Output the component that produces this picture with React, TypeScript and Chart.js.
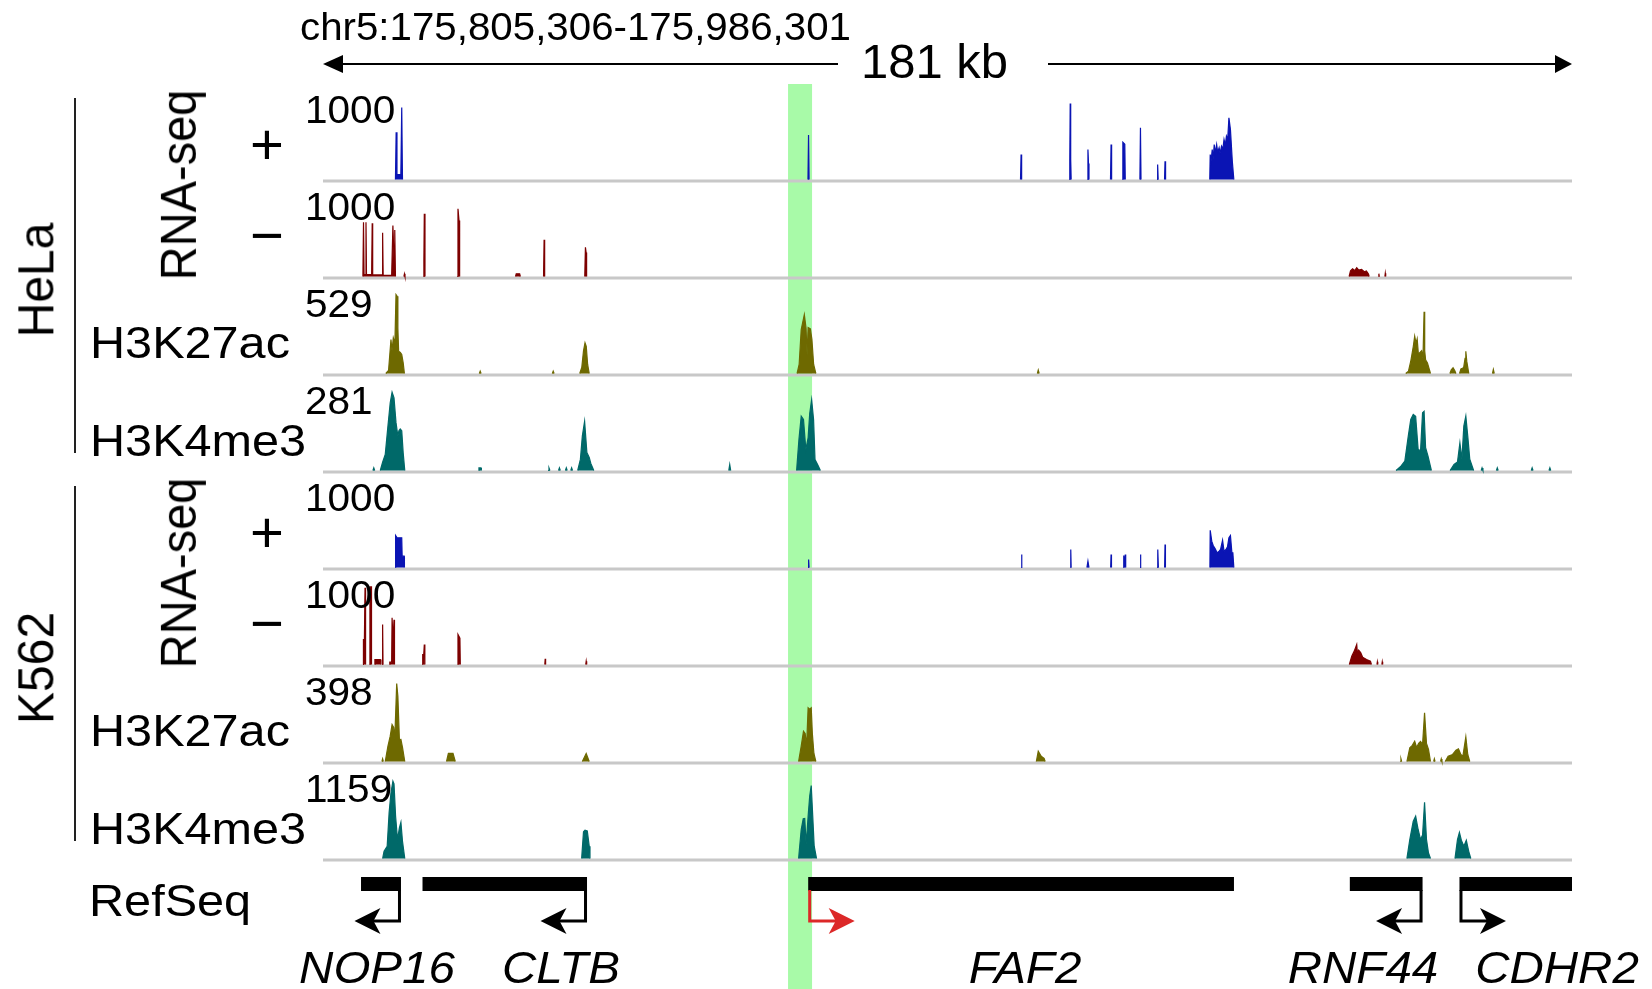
import React, { useEffect, useRef } from 'react';
import { Chart, registerables } from 'chart.js';
Chart.register(...registerables);

// ---------------- DATA ----------------
const regionLabel = 'chr5:175,805,306-175,986,301';
const spanLabel = '181 kb';
const regionStartKb = 0;
const regionEndKb = 180.996;
const highlightKb = [67.39, 70.87];

const cellLines = ['HeLa', 'K562'];
const trackKinds = ['+', '−', 'H3K27ac', 'H3K4me3'];
const trackMax = [1000, 1000, 529, 281, 1000, 1000, 398, 1159];

type Peak = number[][];

const helaRnaPlus: Peak[] = [
  [[10.5, 0], [10.6, 590], [10.72, 60], [11.28, 60], [11.41, 900], [11.52, 0]],
  [[70.28, 0], [70.36, 555], [70.44, 0]],
  [[101.08, 0], [101.16, 312], [101.24, 0]],
  [[108.15, 0], [108.22, 250], [108.28, 950], [108.35, 250], [108.42, 0]],
  [[110.77, 0], [110.85, 375], [110.93, 200], [111.0, 0]],
  [[114.12, 0], [114.2, 437], [114.28, 0]],
  [[115.84, 0], [115.91, 466], [116.19, 440], [116.26, 0]],
  [[118.38, 0], [118.46, 646], [118.54, 0]],
  [[120.88, 0], [120.95, 187], [121.03, 0]],
  [[121.95, 0], [122.02, 229], [122.1, 0]],
  [[128.5, 0], [128.57, 312], [128.7, 230], [128.86, 375], [129.0, 260], [129.15, 437], [129.3, 330], [129.5, 437], [129.65, 340], [129.86, 396], [130.0, 330], [130.21, 416], [130.4, 380], [130.57, 500], [130.75, 430], [130.92, 541], [131.1, 500], [131.28, 771], [131.5, 625], [131.77, 229], [131.99, 0]],
];

const helaRnaMinus: Peak[] = [
  [[5.78, 0], [5.87, 679], [5.95, 25], [6.15, 25], [6.23, 679], [6.3, 25], [7.05, 25], [7.13, 666], [7.2, 20], [8.55, 20], [8.64, 546], [8.72, 15], [9.95, 15], [10.13, 637], [10.3, 200], [10.4, 580], [10.5, 0]],
  [[11.72, 0], [11.8, 33], [11.88, 0]],
  [[14.55, 0], [14.62, 200], [14.68, 783], [14.78, 0]],
  [[19.45, 0], [19.56, 846], [19.71, 700], [19.8, 0]],
  [[27.9, 0], [28.0, 33], [28.5, 33], [28.6, 0]],
  [[31.96, 0], [32.04, 458], [32.12, 0]],
  [[37.93, 0], [38.03, 366], [38.13, 300], [38.2, 0]],
  [[148.7, 0], [148.9, 70], [149.2, 96], [149.5, 75], [149.8, 110], [150.1, 80], [150.5, 90], [150.9, 60], [151.2, 70], [151.5, 30], [151.6, 0]],
  [[152.95, 0], [153.01, 35], [153.07, 0]],
  [[153.88, 0], [153.94, 40], [154.0, 0]],
];

const helaH3K27ac: Peak[] = [
  [[9.1, 0], [9.5, 20], [9.85, 225], [10.0, 150], [10.19, 236], [10.42, 200], [10.58, 522], [10.74, 511], [10.85, 300], [10.96, 147], [11.2, 140], [11.41, 126], [11.62, 71], [11.8, 0]],
  [[22.65, 0], [22.78, 15], [22.91, 0]],
  [[33.23, 0], [33.36, 15], [33.49, 0]],
  [[37.2, 0], [37.5, 40], [37.75, 150], [37.97, 203], [38.15, 180], [38.35, 60], [38.58, 0]],
  [[68.7, 0], [69.0, 60], [69.3, 291], [69.75, 390], [70.0, 300], [70.15, 120], [70.3, 304], [70.63, 295], [70.85, 225], [71.1, 60], [71.42, 0]],
  [[103.52, 0], [103.65, 22], [103.78, 0]],
  [[156.9, 0], [157.3, 15], [157.63, 81], [158.0, 180], [158.2, 247], [158.4, 200], [158.56, 229], [158.75, 120], [158.91, 137], [159.2, 150], [159.4, 100], [159.56, 408], [159.65, 150], [159.78, 90], [160.05, 70], [160.3, 30], [160.49, 0]],
  [[163.3, 0], [163.5, 25], [163.76, 38], [164.0, 20], [164.18, 0]],
  [[164.7, 0], [164.9, 30], [165.11, 35], [165.3, 40], [165.5, 100], [165.61, 147], [165.75, 80], [166.04, 0]],
  [[169.47, 0], [169.6, 26], [169.73, 0]],
];

const helaH3K4me3: Peak[] = [
  [[7.23, 0], [7.36, 9], [7.49, 0]],
  [[8.3, 0], [8.64, 29], [9.02, 56], [9.41, 156], [9.74, 238], [10.01, 275], [10.29, 255], [10.58, 168], [10.85, 121], [11.0, 140], [11.19, 146], [11.41, 140], [11.62, 62], [11.85, 0]],
  [[22.55, 0], [22.6, 9], [22.9, 9], [22.95, 0]],
  [[32.62, 0], [32.75, 9], [32.88, 0]],
  [[34.13, 0], [34.26, 9], [34.39, 0]],
  [[35.13, 0], [35.26, 9], [35.39, 0]],
  [[35.9, 0], [36.03, 9], [36.16, 0]],
  [[36.91, 0], [37.3, 39], [37.58, 121], [37.91, 173], [38.24, 63], [38.58, 46], [38.81, 25], [39.24, 0]],
  [[58.8, 0], [58.94, 21], [59.08, 0]],
  [[68.63, 0], [68.97, 109], [69.3, 191], [69.63, 179], [69.97, 74], [70.3, 115], [70.53, 200], [70.81, 249], [71.09, 179], [71.3, 39], [71.69, 20], [72.08, 0]],
  [[155.5, 0], [156.21, 15], [156.77, 33], [157.27, 121], [157.63, 179], [157.99, 197], [158.34, 190], [158.7, 74], [159.05, 70], [159.34, 203], [159.56, 208], [159.78, 80], [160.13, 50], [160.62, 0]],
  [[163.33, 0], [163.9, 21], [164.4, 30], [164.75, 97], [165.04, 39], [165.32, 156], [165.61, 191], [165.89, 121], [166.18, 40], [166.74, 0]],
  [[167.83, 0], [167.96, 9], [168.09, 0]],
  [[170.04, 0], [170.17, 9], [170.3, 0]],
  [[175.09, 0], [175.22, 9], [175.35, 0]],
  [[177.66, 0], [177.79, 9], [177.92, 0]],
];

const k562RnaPlus: Peak[] = [
  [[10.48, 0], [10.52, 400], [10.74, 370], [10.96, 371], [11.41, 371], [11.47, 141], [11.76, 141], [11.8, 0]],
  [[70.3, 0], [70.32, 100], [70.42, 100], [70.44, 0]],
  [[101.17, 0], [101.23, 162], [101.29, 0]],
  [[108.3, 0], [108.36, 225], [108.42, 0]],
  [[110.7, 0], [110.85, 79], [111.0, 0]],
  [[114.14, 0], [114.2, 162], [114.26, 0]],
  [[115.98, 0], [116.04, 150], [116.1, 30], [116.2, 30], [116.26, 162], [116.32, 0]],
  [[118.4, 0], [118.46, 162], [118.52, 0]],
  [[120.88, 0], [120.93, 100], [120.98, 40], [121.0, 225], [121.06, 0]],
  [[121.96, 0], [122.02, 287], [122.08, 0]],
  [[128.52, 0], [128.57, 466], [128.79, 329], [129.0, 275], [129.29, 233], [129.57, 183], [129.86, 204], [130.07, 225], [130.36, 341], [130.57, 204], [130.85, 225], [131.07, 258], [131.28, 371], [131.5, 400], [131.71, 183], [131.85, 183], [131.99, 0]],
];

const k562RnaMinus: Peak[] = [
  [[5.8, 0], [5.86, 312], [6.0, 312], [6.09, 958], [6.15, 400], [6.19, 0]],
  [[6.74, 0], [6.8, 979], [6.88, 100], [6.92, 100], [6.97, 979], [7.03, 0]],
  [[7.5, 0], [7.52, 62], [8.3, 62], [8.4, 0]],
  [[8.58, 0], [8.64, 500], [8.7, 0]],
  [[9.65, 0], [9.68, 29], [9.95, 29], [10.01, 583], [10.15, 300], [10.29, 560], [10.36, 0]],
  [[14.4, 0], [14.45, 125], [14.6, 125], [14.68, 250], [14.76, 0]],
  [[19.5, 0], [19.56, 375], [19.84, 330], [19.9, 0]],
  [[32.14, 0], [32.2, 71], [32.26, 0]],
  [[38.07, 0], [38.14, 41], [38.21, 0]],
  [[148.73, 0], [149.08, 104], [149.44, 167], [149.8, 250], [149.9, 140], [150.08, 180], [150.37, 150], [150.66, 90], [151.22, 62], [151.79, 40], [151.93, 0]],
  [[152.73, 0], [152.79, 33], [152.85, 0]],
  [[153.44, 0], [153.5, 33], [153.56, 0]],
];

const k562H3K27ac: Peak[] = [
  [[8.54, 0], [8.64, 13], [8.74, 0]],
  [[9.02, 0], [9.41, 76], [9.74, 126], [10.01, 184], [10.24, 170], [10.4, 110], [10.68, 388], [10.85, 325], [11.07, 109], [11.29, 110], [11.52, 70], [11.85, 0]],
  [[17.9, 0], [18.17, 40], [18.84, 40], [19.17, 0]],
  [[37.58, 0], [38.14, 40], [38.58, 0]],
  [[68.92, 0], [69.3, 76], [69.63, 151], [69.87, 140], [70.08, 76], [70.3, 267], [70.53, 260], [70.75, 267], [70.91, 140], [71.14, 40], [71.42, 0]],
  [[103.37, 0], [103.65, 51], [104.08, 26], [104.5, 15], [104.65, 0]],
  [[156.11, 0], [156.21, 13], [156.31, 0]],
  [[157.07, 0], [157.49, 68], [157.85, 80], [158.2, 101], [158.48, 70], [158.77, 90], [159.05, 100], [159.34, 85], [159.63, 242], [159.91, 90], [160.2, 60], [160.49, 0]],
  [[160.95, 0], [161.05, 13], [161.15, 0]],
  [[161.95, 0], [162.05, 13], [162.15, 0]],
  [[162.62, 0], [163.05, 26], [163.69, 35], [164.18, 56], [164.54, 63], [164.89, 35], [165.18, 26], [165.61, 123], [165.89, 35], [166.18, 0]],
];

const k562H3K4me3: Peak[] = [
  [[8.64, 0], [8.85, 106], [9.3, 178], [9.58, 662], [9.85, 952], [10.13, 1120], [10.29, 1080], [10.52, 613], [10.8, 275], [11.07, 445], [11.29, 526], [11.52, 250], [11.85, 0]],
  [[37.48, 0], [37.75, 387], [37.97, 410], [38.3, 400], [38.58, 178], [38.69, 0]],
  [[68.92, 0], [69.3, 420], [69.59, 575], [69.81, 580], [70.02, 203], [70.3, 613], [70.53, 903], [70.75, 1058], [70.97, 613], [71.18, 178], [71.52, 0]],
  [[157.07, 0], [157.49, 275], [157.99, 541], [158.34, 613], [158.7, 420], [159.05, 275], [159.34, 340], [159.63, 816], [159.91, 275], [160.2, 80], [160.49, 0]],
  [[164.04, 0], [164.4, 275], [164.68, 377], [164.96, 265], [165.32, 178], [165.68, 265], [166.04, 100], [166.33, 0]],
];

const trackPeaks: Peak[][] = [helaRnaPlus, helaRnaMinus, helaH3K27ac, helaH3K4me3, k562RnaPlus, k562RnaMinus, k562H3K27ac, k562H3K4me3];

const geneNames = ['NOP16', 'CLTB', 'FAF2', 'RNF44', 'CDHR2'];
const geneStartKb = [5.51, 14.42, 70.31, 148.8, 164.69];
const geneEndKb = [11.3, 38.26, 132.01, 159.34, 180.996];
const geneStrand = ['-', '-', '+', '-', '+'];

// ---------------- LAYOUT / STYLE ----------------
const W = 1652;
const H = 989;
const PLOT_LEFT = 323;
const PLOT_RIGHT = 1572;
const TRACK_BASE = [181, 278, 375, 472, 569, 666, 763, 860];
const TRACK_H = 80;
const GENE_Y = 884;
const HIGHLIGHT_TOP = 84;
const SCALE_Y = 64;
const SCALE_GAP = [838, 1048];
const FONT = '"Liberation Sans", Arial, Helvetica, sans-serif';
const trackColors = ['#0a14b4', '#7d0000', '#6e6900', '#006969', '#0a14b4', '#7d0000', '#6e6900', '#006969'];
const geneLabelX = [377, 561, 1025, 1363, 1557];
const highlightGene = 'FAF2';

function flatten(peaks: Peak[]) {
  const out: { x: number; y: number | null }[] = [];
  peaks.forEach((p) => {
    p.forEach(([x, y]) => out.push({ x, y }));
    out.push({ x: p[p.length - 1][0], y: null });
  });
  return out;
}

function arrowHead(ctx: CanvasRenderingContext2D, tipX: number, y: number, dir: number, len: number, half: number, notch: number) {
  ctx.beginPath();
  ctx.moveTo(tipX, y);
  ctx.lineTo(tipX - dir * len, y - half);
  ctx.lineTo(tipX - dir * (len - notch), y);
  ctx.lineTo(tipX - dir * len, y + half);
  ctx.closePath();
  ctx.fill();
}

const decorPlugin = {
  id: 'decor',
  beforeDatasetsDraw(chart: any) {
    const ctx: CanvasRenderingContext2D = chart.ctx;
    const xs = chart.scales.x;
    const area = chart.chartArea;
    ctx.save();
    const x0 = xs.getPixelForValue(highlightKb[0]);
    const x1 = xs.getPixelForValue(highlightKb[1]);
    ctx.fillStyle = 'rgb(168,250,168)';
    ctx.fillRect(x0, HIGHLIGHT_TOP, x1 - x0, H - HIGHLIGHT_TOP);
    ctx.strokeStyle = 'rgb(200,200,200)';
    ctx.lineWidth = 3;
    trackMax.forEach((_, i) => {
      const y = chart.scales['y' + i].getPixelForValue(0) + 1.5;
      ctx.beginPath();
      ctx.moveTo(area.left, y);
      ctx.lineTo(area.right, y);
      ctx.stroke();
    });
    ctx.restore();
  },
  afterDatasetsDraw(chart: any) {
    const ctx: CanvasRenderingContext2D = chart.ctx;
    const xs = chart.scales.x;
    const yg = chart.scales.yg;
    ctx.save();
    // scale bar
    const xl = xs.getPixelForValue(regionStartKb);
    const xr = xs.getPixelForValue(regionEndKb);
    ctx.strokeStyle = '#000';
    ctx.fillStyle = '#000';
    ctx.lineWidth = 2;
    ctx.beginPath();
    ctx.moveTo(xl + 10, SCALE_Y);
    ctx.lineTo(SCALE_GAP[0], SCALE_Y);
    ctx.moveTo(SCALE_GAP[1], SCALE_Y);
    ctx.lineTo(xr - 10, SCALE_Y);
    ctx.stroke();
    arrowHead(ctx, xl, SCALE_Y, -1, 20, 9, 0);
    arrowHead(ctx, xr, SCALE_Y, 1, 17, 9, 0);
    // gene TSS arrows
    const gy = yg.getPixelForValue(0);
    const elbow = gy + 37;
    geneNames.forEach((g, i) => {
      const dir = geneStrand[i] === '+' ? 1 : -1;
      const tss = dir === 1 ? geneStartKb[i] : geneEndKb[i];
      const x = xs.getPixelForValue(tss) + dir * 1.5;
      const tip = x + dir * 45;
      const col = g === highlightGene ? 'rgb(220,40,40)' : '#000';
      ctx.strokeStyle = col;
      ctx.fillStyle = col;
      ctx.lineWidth = 3;
      ctx.beginPath();
      ctx.moveTo(x, gy + 6);
      ctx.lineTo(x, elbow);
      ctx.lineTo(tip - dir * 16, elbow);
      ctx.stroke();
      arrowHead(ctx, tip, elbow, dir, 26, 13, 7);
    });
    ctx.restore();
  },
};

function Txt(props: { x: number; baseline: number; size: number; sx?: number; italic?: boolean; center?: boolean; children: React.ReactNode }) {
  const { x, baseline, size, sx = 1, italic, center, children } = props;
  const top = baseline - 0.8465 * size;
  return (
    <div
      style={{
        position: 'absolute',
        left: x,
        top,
        fontSize: size,
        lineHeight: size + 'px',
        fontStyle: italic ? 'italic' : 'normal',
        whiteSpace: 'nowrap',
        color: '#000',
        transformOrigin: center ? 'center' : 'left',
        transform: center ? `translateX(-50%) scaleX(${sx})` : `scaleX(${sx})`,
      }}
    >
      {children}
    </div>
  );
}

function VTxt(props: { cx: number; cy: number; size: number; sy?: number; children: React.ReactNode }) {
  const { cx, cy, size, sy = 1, children } = props;
  return (
    <div
      style={{
        position: 'absolute',
        left: cx,
        top: cy,
        fontSize: size,
        lineHeight: size + 'px',
        whiteSpace: 'nowrap',
        color: '#000',
        transform: `translate(-50%, -50%) rotate(-90deg) scale(1, ${sy})`,
      }}
    >
      {children}
    </div>
  );
}

function CTxt(props: { cx: number; cy: number; size: number; children: React.ReactNode }) {
  const { cx, cy, size, children } = props;
  return (
    <div
      style={{
        position: 'absolute',
        left: cx,
        top: cy,
        fontSize: size,
        lineHeight: size + 'px',
        whiteSpace: 'nowrap',
        color: '#000',
        transform: 'translate(-50%, -50%)',
      }}
    >
      {children}
    </div>
  );
}

export default function App() {
  const ref = useRef<HTMLCanvasElement>(null);

  useEffect(() => {
    const scales: any = {
      x: { type: 'linear', display: false, min: regionStartKb, max: regionEndKb },
      yg: { type: 'linear', display: false, min: -(H - GENE_Y), max: GENE_Y },
    };
    const datasets: any[] = [];
    trackMax.forEach((M, i) => {
      const z = TRACK_BASE[i] - 1.5;
      scales['y' + i] = {
        type: 'linear',
        display: false,
        min: (-(H - z) * M) / TRACK_H,
        max: (z * M) / TRACK_H,
      };
      datasets.push({
        data: flatten(trackPeaks[i]),
        yAxisID: 'y' + i,
        xAxisID: 'x',
        borderColor: trackColors[i],
        backgroundColor: trackColors[i],
        borderWidth: 1.2,
        pointRadius: 0,
        fill: 'origin',
        tension: 0,
        spanGaps: false,
      });
    });
    const geneData: { x: number; y: number | null }[] = [];
    geneNames.forEach((_, i) => {
      geneData.push({ x: geneStartKb[i], y: 0 });
      geneData.push({ x: geneEndKb[i], y: 0 });
      geneData.push({ x: geneEndKb[i], y: null });
    });
    datasets.push({
      data: geneData,
      yAxisID: 'yg',
      xAxisID: 'x',
      borderColor: '#000',
      backgroundColor: '#000',
      borderWidth: 14,
      borderCapStyle: 'butt',
      pointRadius: 0,
      fill: false,
      spanGaps: false,
    });

    const chart = new Chart(ref.current as HTMLCanvasElement, {
      type: 'line',
      data: { datasets },
      options: {
        responsive: false,
        maintainAspectRatio: false,
        animation: false,
        devicePixelRatio: 1,
        layout: { padding: { left: PLOT_LEFT, right: W - PLOT_RIGHT, top: 0, bottom: 0 } },
        scales,
        plugins: { legend: { display: false }, tooltip: { enabled: false } },
        events: [],
      } as any,
      plugins: [decorPlugin as any],
    });
    return () => chart.destroy();
  }, []);

  const numLabels = trackMax.map((m, i) => (
    <Txt key={'n' + i} x={305} baseline={TRACK_BASE[i] - 58} size={39} sx={1.04}>
      {String(m)}
    </Txt>
  ));

  const leftLabels: React.ReactNode[] = [];
  cellLines.forEach((cl, c) => {
    const b = TRACK_BASE.slice(c * 4, c * 4 + 4);
    leftLabels.push(
      <VTxt key={'cl' + c} cx={35.5} cy={b[0] + 99} size={48} sy={1.06}>{cl}</VTxt>,
      <VTxt key={'rs' + c} cx={178} cy={b[0] + 4} size={47} sy={1.06}>RNA-seq</VTxt>,
      <CTxt key={'p' + c} cx={267} cy={b[0] - 37} size={58}>{trackKinds[0]}</CTxt>,
      <CTxt key={'m' + c} cx={267} cy={b[1] - 43} size={58}>{trackKinds[1]}</CTxt>,
      <Txt key={'k27' + c} x={90} baseline={b[2] - 17} size={45} sx={1.08}>{trackKinds[2]}</Txt>,
      <Txt key={'k4' + c} x={90} baseline={b[3] - 16} size={45} sx={1.08}>{trackKinds[3]}</Txt>,
      <div key={'ln' + c} style={{ position: 'absolute', left: 74, top: b[0] - 83, width: 2, height: b[3] - 19 - (b[0] - 83), background: '#222' }} />
    );
  });

  return (
    <div style={{ position: 'fixed', left: 0, top: 0, width: W, height: H, background: '#fff', overflow: 'hidden', fontFamily: FONT }}>
      <canvas ref={ref} width={W} height={H} style={{ position: 'absolute', left: 0, top: 0, width: W, height: H }} />
      <Txt x={300} baseline={40} size={38} sx={1.06}>{regionLabel}</Txt>
      <Txt x={861} baseline={78} size={49} sx={1.0}>{spanLabel}</Txt>
      {numLabels}
      {leftLabels}
      <Txt x={89} baseline={916} size={45} sx={1.08}>RefSeq</Txt>
      {geneNames.map((g, i) => (
        <Txt key={g} x={geneLabelX[i]} baseline={983} size={44} sx={1.08} italic center>
          {g}
        </Txt>
      ))}
    </div>
  );
}
